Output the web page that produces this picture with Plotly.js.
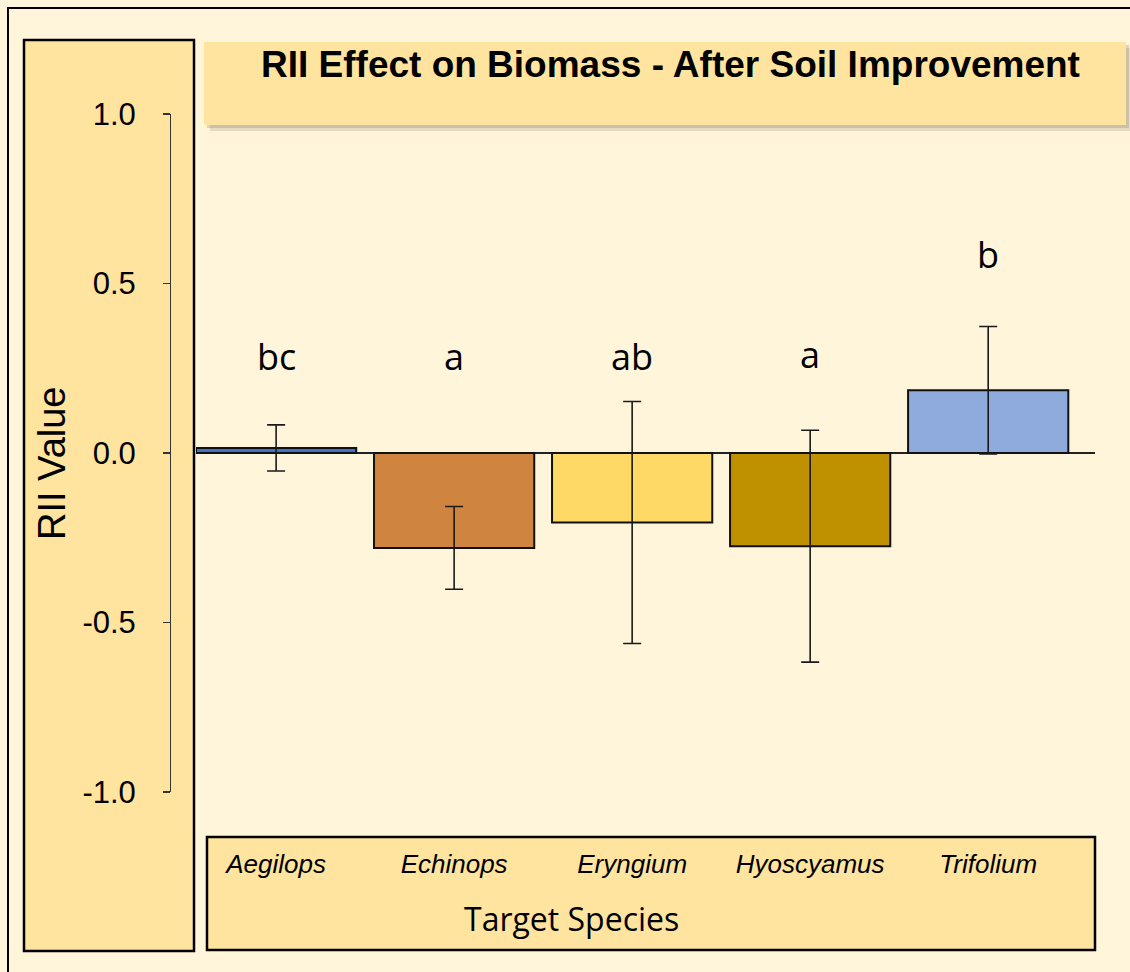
<!DOCTYPE html>
<html>
<head>
<meta charset="utf-8">
<script src="https://cdn.plot.ly/plotly-3.0.1.min.js"></script>
<style>
  html, body { margin: 0; padding: 0; background: #FFF5DA; }
  #chart { width: 1130px; height: 972px; }
</style>
</head>
<body>
<div id="chart"></div>
<script>
// ---- data ----
const species = ["Aegilops", "Echinops", "Eryngium", "Hyoscyamus", "Trifolium"];
const rii = [0.015, -0.28, -0.205, -0.275, 0.185];
const riiErr = [0.068, 0.122, 0.357, 0.342, 0.188];
const sigLetters = ["bc", "a", "ab", "a", "b"];
const letterLevel = [0.285, 0.285, 0.285, 0.29, 0.585];
const barColors = ["#4472C4", "#CF853F", "#FFD966", "#BF9000", "#8FAADC"];
const yTickVals = [-1.0, -0.5, 0.0, 0.5, 1.0];
const yTickText = ["-1.0", "-0.5", "0.0", "0.5", "1.0"];
const chartTitle = "RII Effect on Biomass - After Soil Improvement";
const xTitle = "Target Species";
const yTitle = "RII Value";

// ---- layout helpers (pixel -> paper) ----
const W = 1130, H = 972;
const px = v => v / W;
const py = v => 1 - v / H;

const PANEL = "#FFE4A0";
const CREAM = "#FFF5DA";

const xIdx = species.map((_, i) => i);

const trace = {
  type: "bar",
  x: xIdx,
  y: rii,
  width: 0.9,
  marker: { color: barColors, line: { color: "#111111", width: 2 } },
  error_y: { type: "data", array: riiErr, visible: true, color: "#1a1a1a", thickness: 1.6, width: 9 },
  hoverinfo: "skip"
};

const annotations = [];
sigLetters.forEach((t, i) => {
  annotations.push({
    x: i, y: letterLevel[i], xref: "x", yref: "y", text: t, showarrow: false,
    font: { family: "Open Sans, sans-serif", size: 36, color: "#000" },
    xanchor: "center", yanchor: "middle"
  });
});
annotations.push({
  x: px(670), y: py(64), xref: "paper", yref: "paper", text: "<b>" + chartTitle + "</b>",
  showarrow: false, xanchor: "center", yanchor: "middle",
  font: { family: "Liberation Sans, Arial, sans-serif", size: 37, color: "#000" }
});
annotations.push({
  x: px(571), y: py(918), xref: "paper", yref: "paper", text: xTitle,
  showarrow: false, xanchor: "center", yanchor: "middle",
  font: { family: "Open Sans, sans-serif", size: 32, color: "#000" }
});
annotations.push({
  x: px(52), y: py(464), xref: "paper", yref: "paper", text: yTitle, textangle: -90,
  showarrow: false, xanchor: "center", yanchor: "middle",
  font: { family: "Liberation Sans, Arial, sans-serif", size: 38, color: "#000" }
});

const rect = (x0, y0, x1, y1, fill, line, lw) => ({
  type: "rect", xref: "paper", yref: "paper", layer: "below",
  x0: px(x0), x1: px(x1), y0: py(y1), y1: py(y0),
  fillcolor: fill, line: { color: line || "rgba(0,0,0,0)", width: lw || 0 }
});

const shapes = [
  rect(8, 8, 1140, 990, CREAM, "#000", 2),
  // title box shadow + box
  rect(210, 48, 1132, 131, "rgba(120,110,90,0.18)"),
  rect(207, 45, 1129, 128, "rgba(120,110,90,0.25)"),
  rect(204, 42, 1126, 125, PANEL),
  // y-axis panel
  rect(24, 40, 194, 951, PANEL, "#000", 2.5),
  // x-axis panel
  rect(207, 837, 1095, 950, PANEL, "#000", 2.5)
];

const layout = {
  width: W, height: H,
  margin: { l: 0, r: 0, t: 0, b: 0 },
  paper_bgcolor: CREAM,
  plot_bgcolor: "rgba(0,0,0,0)",
  showlegend: false,
  xaxis: {
    domain: [px(196), px(1095)],
    range: [-0.45, 4.6],
    anchor: "free", position: py(846),
    tickmode: "array", tickvals: xIdx, ticktext: species,
    ticks: "", showline: false, showgrid: false, zeroline: false,
    tickfont: { family: "Liberation Sans, Arial, sans-serif", size: 26, color: "#000", style: "italic" },
    fixedrange: true
  },
  yaxis: {
    domain: [py(792), py(114)],
    range: [-1, 1],
    anchor: "free", position: px(170),
    tickmode: "array", tickvals: yTickVals, ticktext: yTickText,
    showline: true, linecolor: "#333", linewidth: 1.3,
    ticks: "outside", ticklen: 7, tickcolor: "#333", tickwidth: 1.3,
    ticklabelstandoff: 21,
    showgrid: false,
    zeroline: true, zerolinecolor: "#222", zerolinewidth: 1.5,
    tickfont: { family: "Liberation Sans, Arial, sans-serif", size: 31, color: "#000" },
    fixedrange: true
  },
  shapes: shapes,
  annotations: annotations
};

Plotly.newPlot("chart", [trace], layout, { displayModeBar: false, staticPlot: true });
</script>
</body>
</html>
